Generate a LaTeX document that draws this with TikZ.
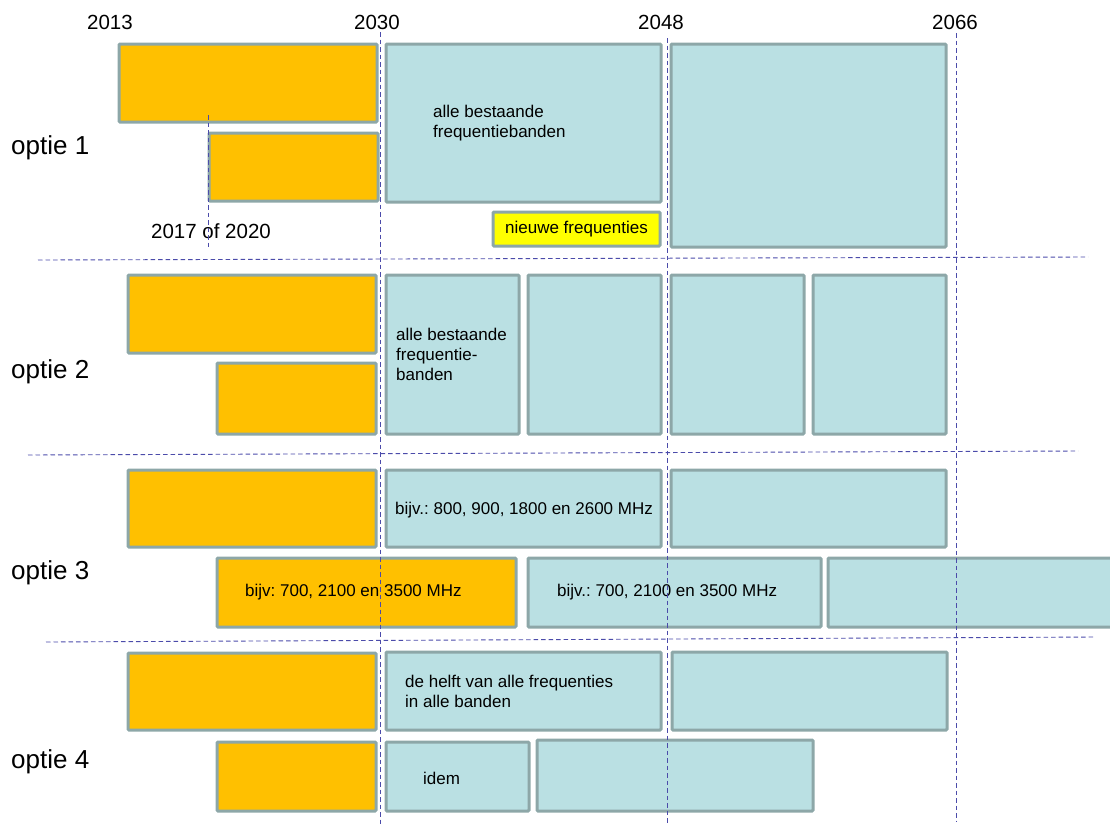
\documentclass[tikz,border=0pt]{standalone}
\usepackage{fontspec}
\setmainfont{Liberation Sans}
\usepackage{xcolor}
\usepackage{tikz}
\usetikzlibrary{positioning}
\frenchspacing

\definecolor{barorange}{HTML}{FFC000}
\definecolor{barblue}{HTML}{BAE0E3}
\definecolor{baryellow}{HTML}{FFFF00}
\definecolor{baredge}{HTML}{8DA7A8}
\definecolor{gridblue}{HTML}{4B4BAA}

\tikzset{
  bar/.style={draw=baredge, line width=3pt, rounded corners=1pt, inner sep=0pt, outer sep=0pt, anchor=north west},
  orangebar/.style={bar, fill=barorange},
  bluebar/.style={bar, fill=barblue},
  newbar/.style={bar, fill=baryellow, font=\fontsize{17}{20}\selectfont},
  bartext/.style={font=\fontsize{17}{20}\selectfont, inner sep=0pt, align=left},
  yeartext/.style={font=\fontsize{20.5}{24}\selectfont, inner sep=0pt},
  optietext/.style={font=\fontsize{26}{30}\selectfont, inner sep=0pt, anchor=west},
  gridline/.style={draw=gridblue, line width=0.9pt, dash pattern=on 4.5pt off 3pt},
}

\begin{document}
\begin{tikzpicture}[x=1pt,y=-1pt]
\useasboundingbox (0,0) rectangle (1110,825);

% Years
\node[yeartext] (y2013) at (110,22) {2013};
\node[yeartext] (y2030) at (377,22) {2030};
\node[yeartext] (y2048) at (661,22) {2048};
\node[yeartext] (y2066) at (955,22) {2066};

% Option 1
\node[optietext] (opt1) at (11,148) {optie 1};
\node[orangebar, minimum width=258, minimum height=78] (o1a) at (119,44) {};
\node[orangebar, minimum width=169, minimum height=68] (o1b) at (209,133) {};
\node[bluebar, minimum width=275, minimum height=158] (b1a) at (386,44) {};
\node[bluebar, minimum width=275, minimum height=203] (b1b) at (671,44) {};
\node[newbar, minimum width=167, minimum height=34] (n1) at (493,212) {nieuwe frequenties};
\node[bartext, anchor=west, right=47pt of b1a.west] (t1a) {alle bestaande\\frequentiebanden};
\node[yeartext] (y2017) at (211,231) {2017 of 2020};

% Option 2
\node[optietext] (opt2) at (11,372) {optie 2};
\node[orangebar, minimum width=248, minimum height=78] (o2a) at (128,275) {};
\node[orangebar, minimum width=159, minimum height=71] (o2b) at (217,363) {};
\node[bluebar, minimum width=133, minimum height=159] (b2a) at (386,275) {};
\node[bluebar, minimum width=133, minimum height=159] (b2b) at (528,275) {};
\node[bluebar, minimum width=133, minimum height=159] (b2c) at (671,275) {};
\node[bluebar, minimum width=133, minimum height=159] (b2d) at (813,275) {};
\node[bartext, right=10pt of b2a.west] (t2a) {alle bestaande\\frequentie-\\banden};

% Option 3
\node[optietext] (opt3) at (11,573) {optie 3};
\node[orangebar, minimum width=248, minimum height=77] (o3a) at (128,470) {};
\node[bluebar, minimum width=275, minimum height=77] (b3a) at (386,470) {};
\node[bluebar, minimum width=275, minimum height=77] (b3b) at (671,470) {};
\node[orangebar, minimum width=299, minimum height=69] (o3b) at (217,558) {};
\node[bluebar, minimum width=293, minimum height=69] (b3c) at (528,558) {};
\node[bluebar, minimum width=290, minimum height=69] (b3d) at (828,558) {};
\node[bartext, right=9pt of b3a.west, yshift=-2pt] (t3a) {bijv.: 800, 900, 1800 en 2600 MHz};
\node[bartext, right=28pt of o3b.west] (t3b) {bijv: 700, 2100 en 3500 MHz};
\node[bartext, right=29pt of b3c.west] (t3c) {bijv.: 700, 2100 en 3500 MHz};

% Option 4
\node[optietext] (opt4) at (11,762) {optie 4};
\node[orangebar, minimum width=248, minimum height=77] (o4a) at (128,653) {};
\node[bluebar, minimum width=275, minimum height=78] (b4a) at (386,652) {};
\node[bluebar, minimum width=275, minimum height=78] (b4b) at (672,652) {};
\node[orangebar, minimum width=159, minimum height=69] (o4b) at (217,742) {};
\node[bluebar, minimum width=143, minimum height=69] (b4c) at (386,742) {};
\node[bluebar, minimum width=276, minimum height=71] (b4d) at (537,740) {};
\node[bartext, right=19pt of b4a.west] (t4a) {de helft van alle frequenties\\in alle banden};
\node[bartext, right=37pt of b4c.west, yshift=-2pt] (t4c) {idem};

% Draw grid lines
\draw[gridline] (380,32) -- (380,825);
\draw[gridline] (667,38) -- (667,825);
\draw[gridline] (956,33) -- (956,822);
\draw[gridline] (208,115) -- (208,250);
\draw[gridline] (38,260) -- (1088,257);
\draw[gridline] (28,455) -- (1078,451);
\draw[gridline] (46,642) -- (1095,637);

\end{tikzpicture}
\end{document}
